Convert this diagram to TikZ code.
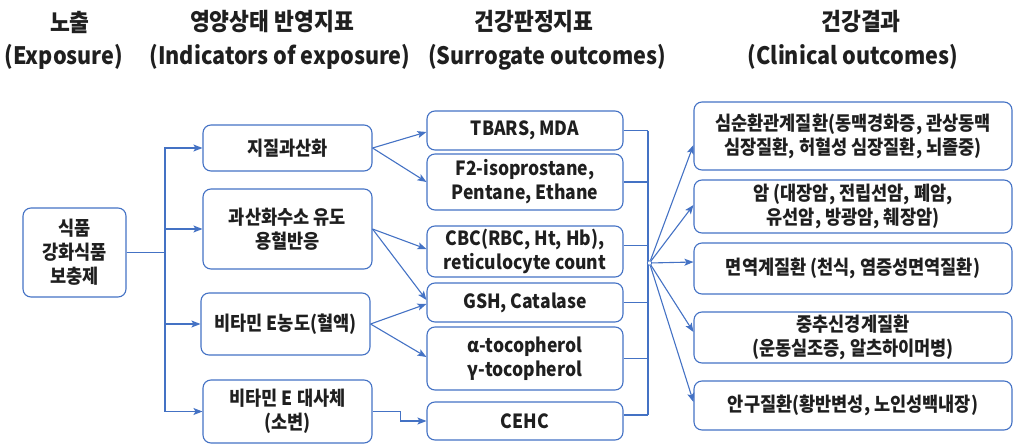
\documentclass[tikz,border=0pt]{standalone}
\usepackage{fontspec}
\setmainfont{Noto Sans CJK KR}[FakeStretch=0.9]
\usetikzlibrary{arrows.meta,calc}
\definecolor{lnblue}{HTML}{4472C4}
\definecolor{txt}{HTML}{1F1F1F}

\begin{document}
\begin{tikzpicture}[x=1pt,y=-1pt,
  bx/.style={draw=lnblue, line width=1.1pt, rounded corners=8pt, inner sep=0pt,
    align=center, text=txt, font=\bfseries\fontsize{19.5}{24}\selectfont},
  head/.style={text=txt, font=\bfseries\fontsize{24}{28}\selectfont, inner sep=0pt},
  ln/.style={draw=lnblue, line width=1.1pt},
  arr/.style={ln, -{Stealth[length=9pt,width=7pt,inset=2pt]}},
]
\useasboundingbox (0,0) rectangle (1015,444);

% column headings
\node[head] (h1a) at (70,22)  {노출};
\node[head] (h1b) at (64,57)  {(Exposure)};
\node[head] (h2a) at (272,22) {영양상태 반영지표};
\node[head] (h2b) at (280,57) {(Indicators of exposure)};
\node[head] (h3a) at (534,22) {건강판정지표};
\node[head] (h3b) at (547,57) {(Surrogate outcomes)};
\node[head] (h4a) at (861,22) {건강결과};
\node[head] (h4b) at (853,57) {(Clinical outcomes)};

% exposure
\node[bx, minimum width=103pt, minimum height=89pt] (expo) at (74.5,252.5) {식품\\강화식품\\보충제};

% indicators of exposure
\node[bx, minimum width=169pt, minimum height=46pt] (i1) at (287.5,148)   {지질과산화};
\node[bx, minimum width=169pt, minimum height=80pt] (i2) at (287.5,229)   {과산화수소 유도\\용혈반응};
\node[bx, minimum width=169pt, minimum height=62pt] (i3) at (285.5,324)   {비타민 E농도(혈액)};
\node[bx, minimum width=169pt, minimum height=63pt] (i4) at (287.5,411.5) {비타민 E 대사체\\(소변)};

% surrogate outcomes
\node[bx, minimum width=196pt, minimum height=39pt] (s1) at (525,130.5) {TBARS, MDA};
\node[bx, minimum width=196pt, minimum height=56pt] (s2) at (525,182)   {F2-isoprostane,\\Pentane, Ethane};
\node[bx, minimum width=196pt, minimum height=51pt] (s3) at (525,251.5) {CBC(RBC, Ht, Hb),\\reticulocyte count};
\node[bx, minimum width=196pt, minimum height=39pt] (s4) at (525,302.5) {GSH, Catalase};
\node[bx, minimum width=196pt, minimum height=63pt] (s5) at (525,358.5) {α-tocopherol\\γ-tocopherol};
\node[bx, minimum width=196pt, minimum height=38pt] (s6) at (525,421)   {CEHC};

% clinical outcomes
\node[bx, minimum width=318pt, minimum height=68pt] (o1) at (853,136)   {심순환관계질환(동맥경화증, 관상동맥\\심장질환, 허혈성 심장질환, 뇌졸중)};
\node[bx, minimum width=318pt, minimum height=53pt] (o2) at (853,206.5) {암 (대장암, 전립선암, 폐암,\\유선암, 방광암, 췌장암)};
\node[bx, minimum width=318pt, minimum height=51pt] (o3) at (853,268.5) {면역계질환 (천식, 염증성면역질환)};
\node[bx, minimum width=318pt, minimum height=51pt] (o4) at (853,337.5) {중추신경계질환\\(운동실조증, 알츠하이머병)};
\node[bx, minimum width=318pt, minimum height=49pt] (o5) at (853,405.5) {안구질환(황반변성, 노인성백내장)};

% exposure -> indicators
\coordinate (tk) at (165,252.5);
\foreach \t in {i1,i2,i3,i4}
  \draw[arr] (expo.east) -- (tk) |- (\t.west);

% indicators -> surrogate outcomes
\draw[arr] (i1.east) -- ($(s1.west)+(0,1.5)$);
\draw[arr] (i1.east) -- (s2.west);
\draw[arr] (i2.east) -- ($(s3.west)+(0,-2.5)$);
\draw[arr] (i2.east) -- ($(s4.west)+(0,-2.5)$);
\draw[arr] (i3.east) -- ($(s4.west)+(0,1.5)$);
\draw[arr] (i3.east) -- ($(s5.west)+(0,-1.5)$);
\draw[arr] (i4.east) -- ++(28,0) |- (s6.west);

% surrogate outcomes -> collector
\coordinate (cl) at (648,0);
\draw[ln] (s1.east) -- (cl |- s1.east);
\draw[ln] (s2.east) -- (cl |- s2.east);
\draw[ln] ($(s3.east)+(0,-6)$) -- (cl |- {$(s3.east)+(0,-6)$});
\draw[ln] (s4.east) -- (cl |- s4.east);
\draw[ln] (s5.east) -- (cl |- s5.east);
\draw[ln] ($(s6.east)+(0,-6)$) -- (cl |- {$(s6.east)+(0,-6)$});
\draw[ln] (cl |- s1.east) -- (cl |- {$(s6.east)+(0,-6)$});

% hub -> clinical outcomes
\node[circle, draw=lnblue, line width=0.8pt, fill=white, minimum size=4.5pt, inner sep=0pt] (hub) at (649.5,263) {};
\draw[arr] (hub) -- ($(o1.west)+(0,9)$);
\draw[arr] (hub) -- ($(o2.west)+(0,-1.5)$);
\draw[arr] (hub) -- ($(o3.west)+(0,-6.5)$);
\draw[arr] (hub) -- ($(o4.west)+(0,-5.5)$);
\draw[arr] (hub) -- ($(o5.west)+(0,-3.5)$);
\end{tikzpicture}
\end{document}
